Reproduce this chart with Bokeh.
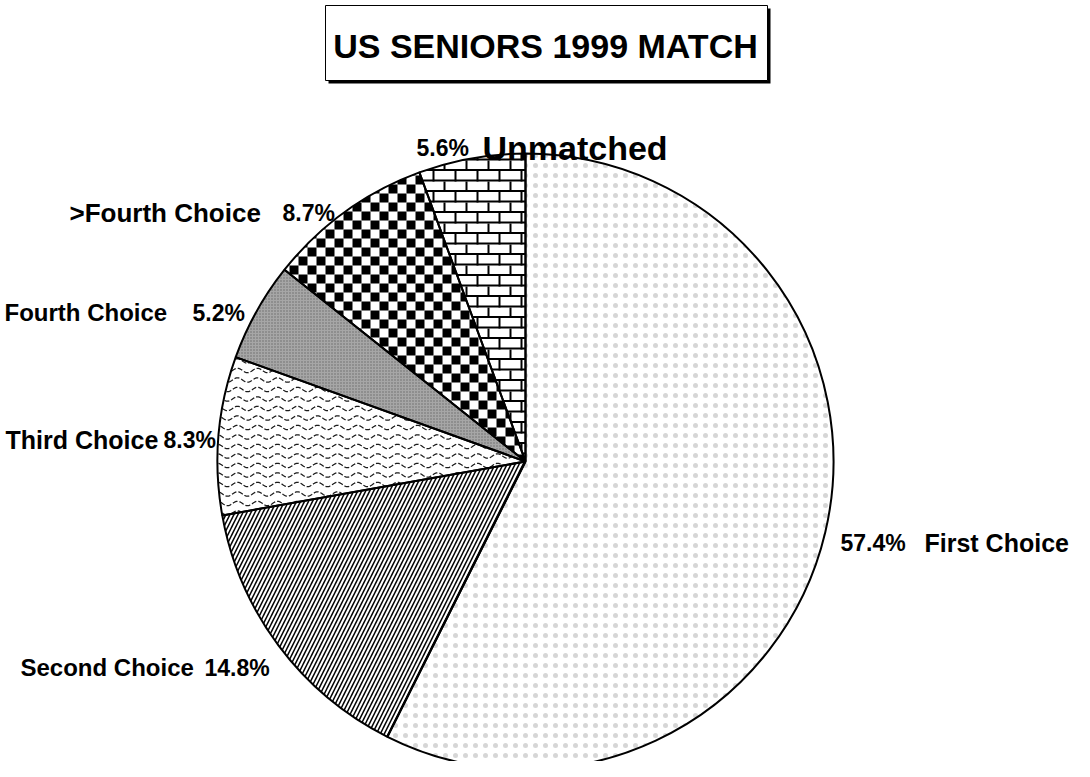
import math
from bokeh.plotting import figure
from bokeh.models import Range1d
from bokeh.core.properties import value
from bokeh.embed import file_html
from bokeh.resources import INLINE

# ---- data ----
categories = ["First Choice", "Second Choice", "Third Choice", "Fourth Choice", ">Fourth Choice", "Unmatched"]
percents = [57.4, 14.8, 8.3, 5.2, 8.7, 5.6]
title_text = "US SENIORS 1999 MATCH"

# ---- layout (image pixel coordinates; y measured from top) ----
W, H = 1074, 761
IMG_H = 777
def Y(y):
    return IMG_H - y

CX, CY, R = 533, 469, 308
# label positions: (name_x, pct_x, baseline_y, name font size)
label_pos = {
    "First Choice":   (932, 848, 550, "25px"),
    "Second Choice":  (28, 212, 675, "24px"),
    "Third Choice":   (13, 171, 447, "25px"),
    "Fourth Choice":  (12, 200, 320, "24px"),
    ">Fourth Choice": (77, 290, 220, "26px"),
    "Unmatched":      (490, 424, 155, "34px"),
}

# fills / built-in hatches; "checker", "brick", "wave" are drawn as clipped geometry
styles = {
    "First Choice":   dict(fill_color="white", hatch_pattern=".", hatch_scale=10, hatch_weight=0.5, hatch_color="#8a8a8a", hatch_alpha=0.35),
    "Second Choice":  dict(fill_color="white", hatch_pattern="/", hatch_scale=8, hatch_weight=1.5, hatch_color="black"),
    "Third Choice":   dict(fill_color="white"),
    "Fourth Choice":  dict(fill_color="#a6a6a6", hatch_pattern=".", hatch_scale=3, hatch_weight=0.5, hatch_color="#505050", hatch_alpha=0.7),
    ">Fourth Choice": dict(fill_color="white"),
    "Unmatched":      dict(fill_color="white"),
}
geometry = {">Fourth Choice": "checker", "Unmatched": "brick", "Third Choice": "wave"}

# ---- geometry helpers ----
def arc_poly(cx, cy, r, a0, a1, n=120):
    pts = [(cx, cy)]
    for i in range(n + 1):
        a = math.radians(a0 + (a1 - a0) * i / n)
        pts.append((cx + r * math.cos(a), cy + r * math.sin(a)))
    return pts

def orient(poly):
    area = sum(x0 * y1 - x1 * y0 for (x0, y0), (x1, y1) in zip(poly, poly[1:] + poly[:1]))
    return 1 if area > 0 else -1

def inside_convex(p, poly, s):
    for a, b in zip(poly, poly[1:] + poly[:1]):
        if s * ((b[0] - a[0]) * (p[1] - a[1]) - (b[1] - a[1]) * (p[0] - a[0])) < 0:
            return False
    return True

def clip(subject, clipper, s):
    def inside(p, a, b):
        return s * ((b[0] - a[0]) * (p[1] - a[1]) - (b[1] - a[1]) * (p[0] - a[0])) >= 0
    def inter(p, q, a, b):
        x1, y1 = p; x2, y2 = q; x3, y3 = a; x4, y4 = b
        den = (x1 - x2) * (y3 - y4) - (y1 - y2) * (x3 - x4)
        if den == 0:
            return q
        t = ((x1 - x3) * (y3 - y4) - (y1 - y3) * (x3 - x4)) / den
        return (x1 + t * (x2 - x1), y1 + t * (y2 - y1))
    out = list(subject)
    for a, b in zip(clipper, clipper[1:] + clipper[:1]):
        if not out:
            break
        inp, out = out, []
        for i in range(len(inp)):
            cur, prev = inp[i], inp[i - 1]
            ci, pi = inside(cur, a, b), inside(prev, a, b)
            if ci:
                if not pi:
                    out.append(inter(prev, cur, a, b))
                out.append(cur)
            elif pi:
                out.append(inter(prev, cur, a, b))
    return out

def rect(x0, y0, x1, y1):
    return [(x0, y0), (x1, y0), (x1, y1), (x0, y1)]

def pattern_shapes(kind, poly):
    s = orient(poly)
    xs = [p[0] for p in poly]; ys = [p[1] for p in poly]
    xmin, xmax, ymin, ymax = min(xs), max(xs), min(ys), max(ys)
    patches, lines = [], []
    if kind == "checker":
        q = 9
        for i in range(int(xmin // q) - 1, int(xmax // q) + 2):
            for j in range(int(ymin // q) - 1, int(ymax // q) + 2):
                if (i + j) % 2:
                    continue
                c = clip(rect(i * q, j * q, (i + 1) * q, (j + 1) * q), poly, s)
                if len(c) >= 3:
                    patches.append(c)
    elif kind == "brick":
        h, w, t = 10.5, 22, 2
        j0, j1 = int(ymin // h) - 1, int(ymax // h) + 2
        for j in range(j0, j1):
            y0 = j * h
            shapes = [rect(xmin - 2, y0, xmax + 2, y0 + t)]
            off = (j % 2) * w / 2
            k0 = int((xmin - off) // w) - 1
            k1 = int((xmax - off) // w) + 2
            for k in range(k0, k1):
                x0 = off + k * w
                shapes.append(rect(x0, y0, x0 + t, y0 + h))
            for sh in shapes:
                c = clip(sh, poly, s)
                if len(c) >= 3:
                    patches.append(c)
    elif kind == "wave":
        dy, period, amp = 9.5, 20.0, 2.2
        for j in range(int(ymin // dy) - 1, int(ymax // dy) + 2):
            y0 = j * dy
            run = []
            x = math.floor(xmin)
            while x <= xmax + 1:
                pt = (x, y0 + amp * math.sin(2 * math.pi * x / period))
                if inside_convex(pt, poly, s):
                    run.append(pt)
                else:
                    if len(run) > 1:
                        lines.append(run)
                    run = []
                x += 1
            if len(run) > 1:
                lines.append(run)
    return patches, lines

# ---- figure ----
p = figure(width=W, height=H, output_backend="svg", toolbar_location=None,
           x_range=Range1d(8, 8 + W), y_range=Range1d(IMG_H - 8 - H, IMG_H - 8),
           x_axis_type=None, y_axis_type=None, min_border=0)
p.grid.visible = False
p.outline_line_color = None
p.background_fill_color = "white"
p.border_fill_color = "white"

# ---- title box ----
p.quad(left=[336], right=[778], top=[Y(16)], bottom=[Y(91)], fill_color="black", line_color=None)
p.quad(left=[333], right=[775], top=[Y(13)], bottom=[Y(88)], fill_color="white", line_color="black", line_width=1)
p.text(x=[553], y=[Y(53)], text=[title_text], text_align="center", text_baseline="alphabetic",
       text_font=value("Liberation Sans"), text_font_style="bold", text_font_size="34px", text_color="black")

# ---- pie ----
total = sum(percents)
angles = []
cum = 0.0
for cat, pct in zip(categories, percents):
    start = 90 - 360 * cum / total
    cum += pct
    end = 90 - 360 * cum / total
    angles.append((start, end))
    p.wedge(x=CX, y=Y(CY), radius=R, start_angle=start, end_angle=end,
            start_angle_units="deg", end_angle_units="deg",
            direction="clock", line_color=None, **styles[cat])

# pattern geometry clipped to the wedges
for cat, (start, end) in zip(categories, angles):
    kind = geometry.get(cat)
    if not kind:
        continue
    poly = arc_poly(CX, Y(CY), R, start, end)
    patches, lines = pattern_shapes(kind, poly)
    if patches:
        p.patches(xs=[[pt[0] for pt in c] for c in patches], ys=[[pt[1] for pt in c] for c in patches],
                  fill_color="black", line_color=None)
    if lines:
        p.multi_line(xs=[[pt[0] for pt in l] for l in lines], ys=[[pt[1] for pt in l] for l in lines],
                     line_color="#1a1a1a", line_width=1.3, line_dash="5 2")

# outlines on top
for cat, (start, end) in zip(categories, angles):
    p.wedge(x=CX, y=Y(CY), radius=R, start_angle=start, end_angle=end,
            start_angle_units="deg", end_angle_units="deg",
            direction="clock", fill_color=None, line_color="black", line_width=2)

# ---- labels ----
for cat, pct in zip(categories, percents):
    nx, px, by, fs = label_pos[cat]
    p.text(x=[nx], y=[Y(by)], text=[cat], text_align="left", text_baseline="alphabetic",
           text_font=value("Liberation Sans"), text_font_style="bold",
           text_font_size=fs, text_color="black")
    p.text(x=[px], y=[Y(by)], text=[f"{pct}%"], text_align="left", text_baseline="alphabetic",
           text_font=value("Liberation Sans"), text_font_style="bold",
           text_font_size="23px", text_color="black")

open("out.html", "w").write(file_html(p, INLINE))
